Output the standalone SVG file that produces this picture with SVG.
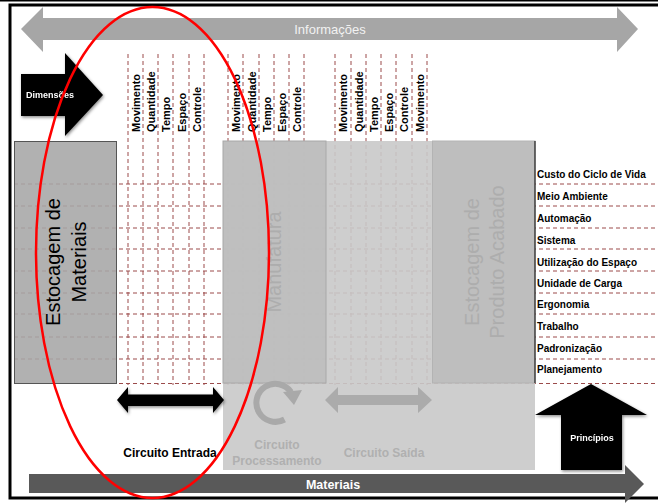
<svg xmlns="http://www.w3.org/2000/svg" width="658" height="504" viewBox="0 0 658 504">
  <defs>
    <style>
      .grid { stroke: #9b4b4b; stroke-width: 1; stroke-dasharray: 4 3; fill: none; }
      .dim { font-family: "Liberation Sans", Arial, sans-serif; font-weight: bold; font-size: 11px; fill: #000; }
      .prin { font-family: "Liberation Sans", Arial, sans-serif; font-weight: bold; font-size: 10px; fill: #000; }
      .big { font-family: "Liberation Sans", Arial, sans-serif; font-size: 20px; text-anchor: middle; }
      .lbl { font-family: "Liberation Sans", Arial, sans-serif; font-weight: bold; font-size: 12px; text-anchor: middle; }
      .inv { font-family: "Liberation Sans", Arial, sans-serif; font-weight: bold; fill: #fff; text-anchor: middle; }
      .fade { fill: #c8c8c8; }
    </style>
    <filter id="shadow" x="-20%" y="-20%" width="140%" height="140%">
      <feDropShadow dx="1" dy="1.5" stdDeviation="1.5" flood-color="#000" flood-opacity="0.45"/>
    </filter>
  </defs>

  <rect width="658" height="504" fill="#fff"/>

  <!-- outer frame -->
  <line x1="0" y1="0.8" x2="658" y2="0.8" stroke="#000" stroke-width="1.6"/>
  <rect x="10" y="5" width="660" height="493" fill="none" stroke="#000" stroke-width="3"/>

  <!-- information flow arrow -->
  <g id="informacoes">
    <polygon points="21,29 43,7 43,18 617,18 617,7 638,29 617,52 617,40 43,40 43,52" fill="#a6a6a6"/>
    <text x="330" y="33.5" font-family="'Liberation Sans', Arial, sans-serif" font-size="13" fill="#f2f2f2" text-anchor="middle">Informações</text>
  </g>

  <!-- dimensions arrow -->
  <g id="dimensoes" filter="url(#shadow)">
    <polygon points="21,74 65,74 65,53 103,95 65,136 65,116 21,116" fill="#000"/>
    <text class="inv" x="50" y="98" font-size="9">Dimensões</text>
  </g>

  <!-- grid of dashed lines -->
  <g id="connectors">
    <g class="grid">
      <path d="M128,54V385M143,54V385M158,54V385M173,54V385M189,54V385M204,54V385"/>
      <path d="M228,54V385M243,54V385M259,54V385M274,54V385M289,54V385M304,54V385"/>
      <path d="M335,54V385M351,54V385M366,54V385M381,54V385M396,54V385M412,54V385M427,54V385"/>
      <path d="M14,184H658M14,206H658M14,228H658M14,249H658M14,271H658M14,293H658M14,314H658M14,337H658M14,359H658M14,383.5H658"/>
    </g>
  </g>

  <!-- dimension labels -->
  <g id="dimensoes-entrada" class="dim">
    <text transform="translate(140,132) rotate(-90)">Movimento</text>
    <text transform="translate(155,132) rotate(-90)">Quantidade</text>
    <text transform="translate(170,132) rotate(-90)">Tempo</text>
    <text transform="translate(185.5,132) rotate(-90)">Espaço</text>
    <text transform="translate(200.5,132) rotate(-90)">Controle</text>
  </g>
  <g id="dimensoes-processo" class="dim">
    <text transform="translate(240,132) rotate(-90)">Movimento</text>
    <text transform="translate(255.5,132) rotate(-90)">Quantidade</text>
    <text transform="translate(271,132) rotate(-90)">Tempo</text>
    <text transform="translate(286,132) rotate(-90)">Espaço</text>
    <text transform="translate(301,132) rotate(-90)">Controle</text>
  </g>
  <g id="dimensoes-saida" class="dim">
    <text transform="translate(347,132) rotate(-90)">Movimento</text>
    <text transform="translate(362.5,132) rotate(-90)">Quantidade</text>
    <text transform="translate(378,132) rotate(-90)">Tempo</text>
    <text transform="translate(393,132) rotate(-90)">Espaço</text>
    <text transform="translate(408,132) rotate(-90)">Controle</text>
    <text transform="translate(424,132) rotate(-90)">Movimento</text>
  </g>

  <!-- raw material storage -->
  <g id="estocagem-materiais">
    <rect x="14.5" y="141.5" width="102" height="242" fill="#a6a6a6" fill-opacity="0.88" stroke="#555" stroke-width="1"/>
    <text class="big" fill="#000" transform="translate(60,262) rotate(-90)">Estocagem de</text>
    <text class="big" fill="#000" transform="translate(86,262) rotate(-90)">Materiais</text>
  </g>

  <!-- faded section: processing and finished goods -->
  <g id="area-esmaecida">
    <rect x="223" y="141" width="312" height="329" fill="#c9c9c9" fill-opacity="0.9"/>
  </g>
  <g id="manufatura">
    <rect x="223" y="141" width="103" height="242" fill="#bcbcbc" fill-opacity="0.85" stroke="#a8a8a8" stroke-width="1"/>
    <text class="big" fill="#adadad" transform="translate(281,262) rotate(-90)">Manufatura</text>
  </g>
  <g id="estocagem-produto-acabado">
    <rect x="432.5" y="141" width="102.5" height="242" fill="#bdbdbd" fill-opacity="0.9" stroke="#b3b3b3" stroke-width="1"/>
    <line x1="535" y1="141" x2="535" y2="383" stroke="#000" stroke-width="1"/>
    <text class="big" fill="#adadad" transform="translate(479,262) rotate(-90)">Estocagem de</text>
    <text class="big" fill="#adadad" transform="translate(504,262) rotate(-90)">Produto Acabado</text>
  </g>

  <!-- principles list -->
  <g id="principios-lista" class="prin">
    <text x="537" y="177.5">Custo do Ciclo de Vida</text>
    <text x="537" y="199.5">Meio Ambiente</text>
    <text x="537" y="221.5">Automação</text>
    <text x="537" y="243.5">Sistema</text>
    <text x="537" y="265.5">Utilização do Espaço</text>
    <text x="537" y="286.5">Unidade de Carga</text>
    <text x="537" y="308">Ergonomia</text>
    <text x="537" y="330">Trabalho</text>
    <text x="537" y="351.5">Padronização</text>
    <text x="537" y="373">Planejamento</text>
  </g>

  <!-- input circuit -->
  <g id="circuito-entrada">
    <polygon filter="url(#shadow)" points="117,400 128,387 128,394.5 213,394.5 213,387 224,400 213,413 213,406 128,406 128,413" fill="#000"/>
    <text class="lbl" x="170" y="457" fill="#000">Circuito Entrada</text>
  </g>

  <!-- processing circuit -->
  <g id="circuito-processamento">
    <path d="M284.5,419.5 A19,19 0 1 1 291,392" fill="none" stroke="#a9a9a9" stroke-width="6"/>
    <polygon points="283,392 302,390 294,405" fill="#a9a9a9"/>
    <text class="lbl" x="277" y="449" fill="#b0b0b0">Circuito</text>
    <text class="lbl" x="277" y="465" fill="#b0b0b0">Processamento</text>
  </g>

  <!-- output circuit -->
  <g id="circuito-saida">
    <polygon points="325,400 338,387 338,395 418,395 418,387 432,400 418,413 418,405 338,405 338,413" fill="#ababab"/>
    <text class="lbl" x="384" y="457" fill="#b0b0b0">Circuito Saída</text>
  </g>

  <!-- principles arrow -->
  <g id="principios" filter="url(#shadow)">
    <polygon points="591,384 647,415 622,415 622,470 561,470 561,415 535,415" fill="#000"/>
    <text class="inv" x="592" y="441" font-size="9">Princípios</text>
  </g>

  <!-- materials flow arrow -->
  <g id="materiais">
    <polygon points="29,474 625,474 625,465 644,484 625,503 625,493 29,493" fill="#595959"/>
    <text class="inv" x="333" y="488.5" font-size="12.5">Materiais</text>
  </g>

  <!-- highlight ellipse -->
  <ellipse id="destaque" cx="152.5" cy="252.5" rx="116.5" ry="245.5" fill="none" stroke="#ff0000" stroke-width="2.5"/>
</svg>
